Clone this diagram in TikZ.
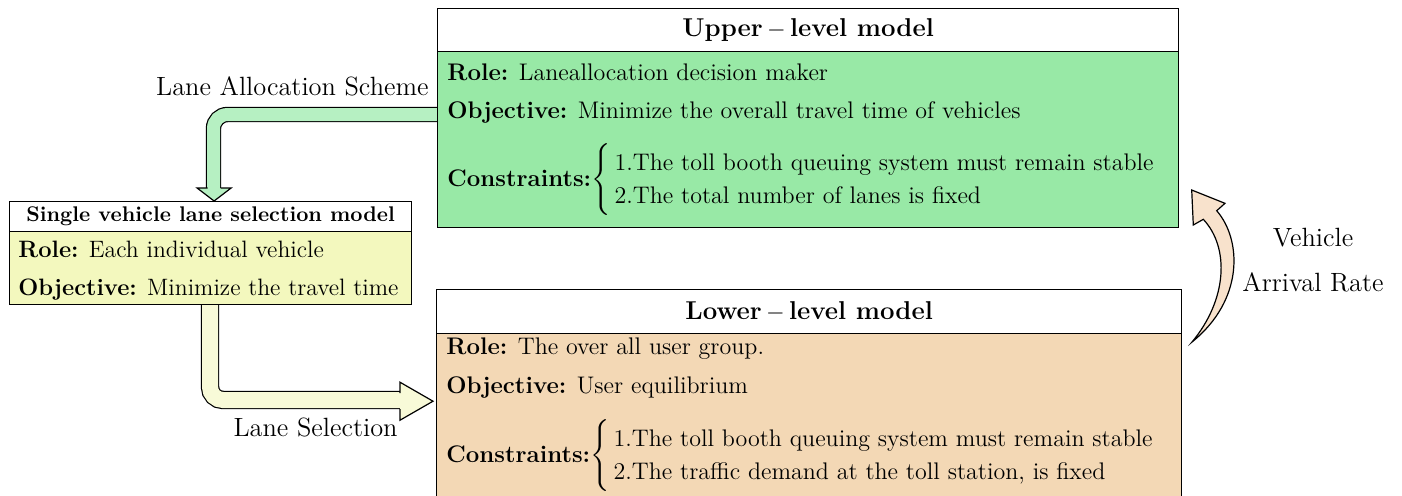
\documentclass[tikz,border=0pt]{standalone}
\usepackage{amsmath}
\usetikzlibrary{calc}
\definecolor{upgreen}{RGB}{152,233,166}
\definecolor{arrgreen}{RGB}{182,240,194}
\definecolor{svyellow}{RGB}{243,248,190}
\definecolor{arryellow}{RGB}{248,250,216}
\definecolor{lowtan}{RGB}{243,216,181}
\definecolor{arrtan}{RGB}{248,226,204}
\newcommand{\bodyfont}{\fontsize{12}{14.4}\selectfont}
\newcommand{\svbodyfont}{\fontsize{11.85}{14.2}\selectfont}
\newcommand{\svtitlefont}{\fontsize{10.6}{12.7}\selectfont\bfseries}
\newcommand{\titlefont}{\fontsize{12.9}{15.5}\selectfont\bfseries}
\newcommand{\labelfont}{\fontsize{13.2}{15.8}\selectfont}
\newcommand{\conlist}[2]{\textbf{Constraints:}$\left\{\renewcommand{\arraystretch}{1.15}\begin{tabular}{@{\,}l@{}}#1\\#2\end{tabular}\right.$}
\begin{document}
\begin{tikzpicture}[x=0.5pt,y=-0.5pt,
  box/.style={draw, line width=0.6pt, inner sep=0pt, anchor=north west},
  txt/.style={anchor=west, inner sep=0pt, font=\bodyfont},
  svtxt/.style={anchor=west, inner sep=0pt, font=\svbodyfont},
  lbl/.style={inner sep=0pt, font=\labelfont},
  fatline/.style={line width=0.6pt},
  headstyle/.style={line width=0.6pt, line join=miter}]
\clip (0,0) rectangle (1402,495);
% arrow 1 : upper -> single
\draw[fatline, double=arrgreen, double distance=6.5pt, rounded corners=7pt]
  (437,114.5) -| (213.5,188);
% arrow 2 : single -> lower
\draw[fatline, double=arryellow, double distance=8pt, rounded corners=6.5pt]
  (210,304) |- (400,400);
% boxes
\node[box, fill=upgreen, minimum width=370.5pt, minimum height=109.5pt] (up) at (437,8) {};
\node[box, fill=white, minimum width=370.5pt, minimum height=21.5pt] (uptitle) at (437,8) {};
\node[font=\titlefont] (uptitletext) at (uptitle.center) {Upper\,$-$\,level model};
\node[box, fill=lowtan, minimum width=372.5pt, minimum height=120pt] (low) at (436,289) {};
\node[box, fill=white, minimum width=372.5pt, minimum height=22pt] (lowtitle) at (436,289) {};
\node[font=\titlefont] (lowtitletext) at (lowtitle.center) {Lower\,$-$\,level model};
\node[box, fill=svyellow, minimum width=201pt, minimum height=51.5pt] (sv) at (9,201) {};
\node[box, fill=white, minimum width=201pt, minimum height=15pt] (svtitle) at (9,201) {};
\node[font=\svtitlefont] (svtitletext) at (svtitle.center) {Single vehicle lane selection model};
% upper text
\node[txt] (uprole) at (447,72) {\textbf{Role:} Laneallocation decision maker};
\node[txt] (upobj) at (447,112) {\textbf{Objective:} Minimize the overall travel time of vehicles};
\node[txt] (upcon) at (447,180) {\conlist{1.The toll booth queuing system must remain stable}{2.The total number of lanes is fixed}};
% lower text
\node[txt] (lowrole) at (446,349) {\textbf{Role:} The over all user group.};
\node[txt] (lowobj) at (446,388) {\textbf{Objective:} User equilibrium};
\node[txt] (lowcon) at (446,456) {\conlist{1.The toll booth queuing system must remain stable}{2.The traffic demand at the toll station, is fixed}};
% single text
\node[svtxt] (svrole) at (18,249) {\textbf{Role:} Each individual vehicle};
\node[svtxt] (svobj) at (18,290) {\textbf{Objective:} Minimize the travel time};
% arrow heads
\filldraw[headstyle, fill=arrgreen]
  ($(sv.north)+(-3,-13)$) -- ($(sv.north)+(-13.5,-13)$) -- ($(sv.north)+(3.5,0)$)
  -- ($(sv.north)+(20.5,-13)$) -- ($(sv.north)+(10,-13)$);
\filldraw[headstyle, fill=arryellow]
  ($(lowtitle.south west)+(-36,59)$) -- ($(lowtitle.south west)+(-36,48)$) -- ($(lowtitle.south west)+(-3,67)$)
  -- ($(lowtitle.south west)+(-36,86)$) -- ($(lowtitle.south west)+(-36,75)$);
% arrow 3 : lower -> upper (curved)
\coordinate (tail) at (1192,342);
\coordinate (tip) at (1191.7,190);
\filldraw[headstyle, fill=arrtan]
  (tail) .. controls (1244,300) and (1242,240) .. (1216.7,210.7)
  -- (1225,203.3) -- (tip) -- (1193.3,225) -- (1203.3,219.3)
  .. controls (1230,248) and (1227,300) .. (tail) -- cycle;
% labels
\node[lbl, anchor=east] (lbl1) at (429,86) {Lane Allocation Scheme};
\node[lbl, anchor=east] (lbl2) at (398,427) {Lane Selection};
\node[lbl] (lbl3) at (1313,238) {Vehicle};
\node[lbl] (lbl4) at (1313,282) {Arrival Rate};
\end{tikzpicture}
\end{document}
